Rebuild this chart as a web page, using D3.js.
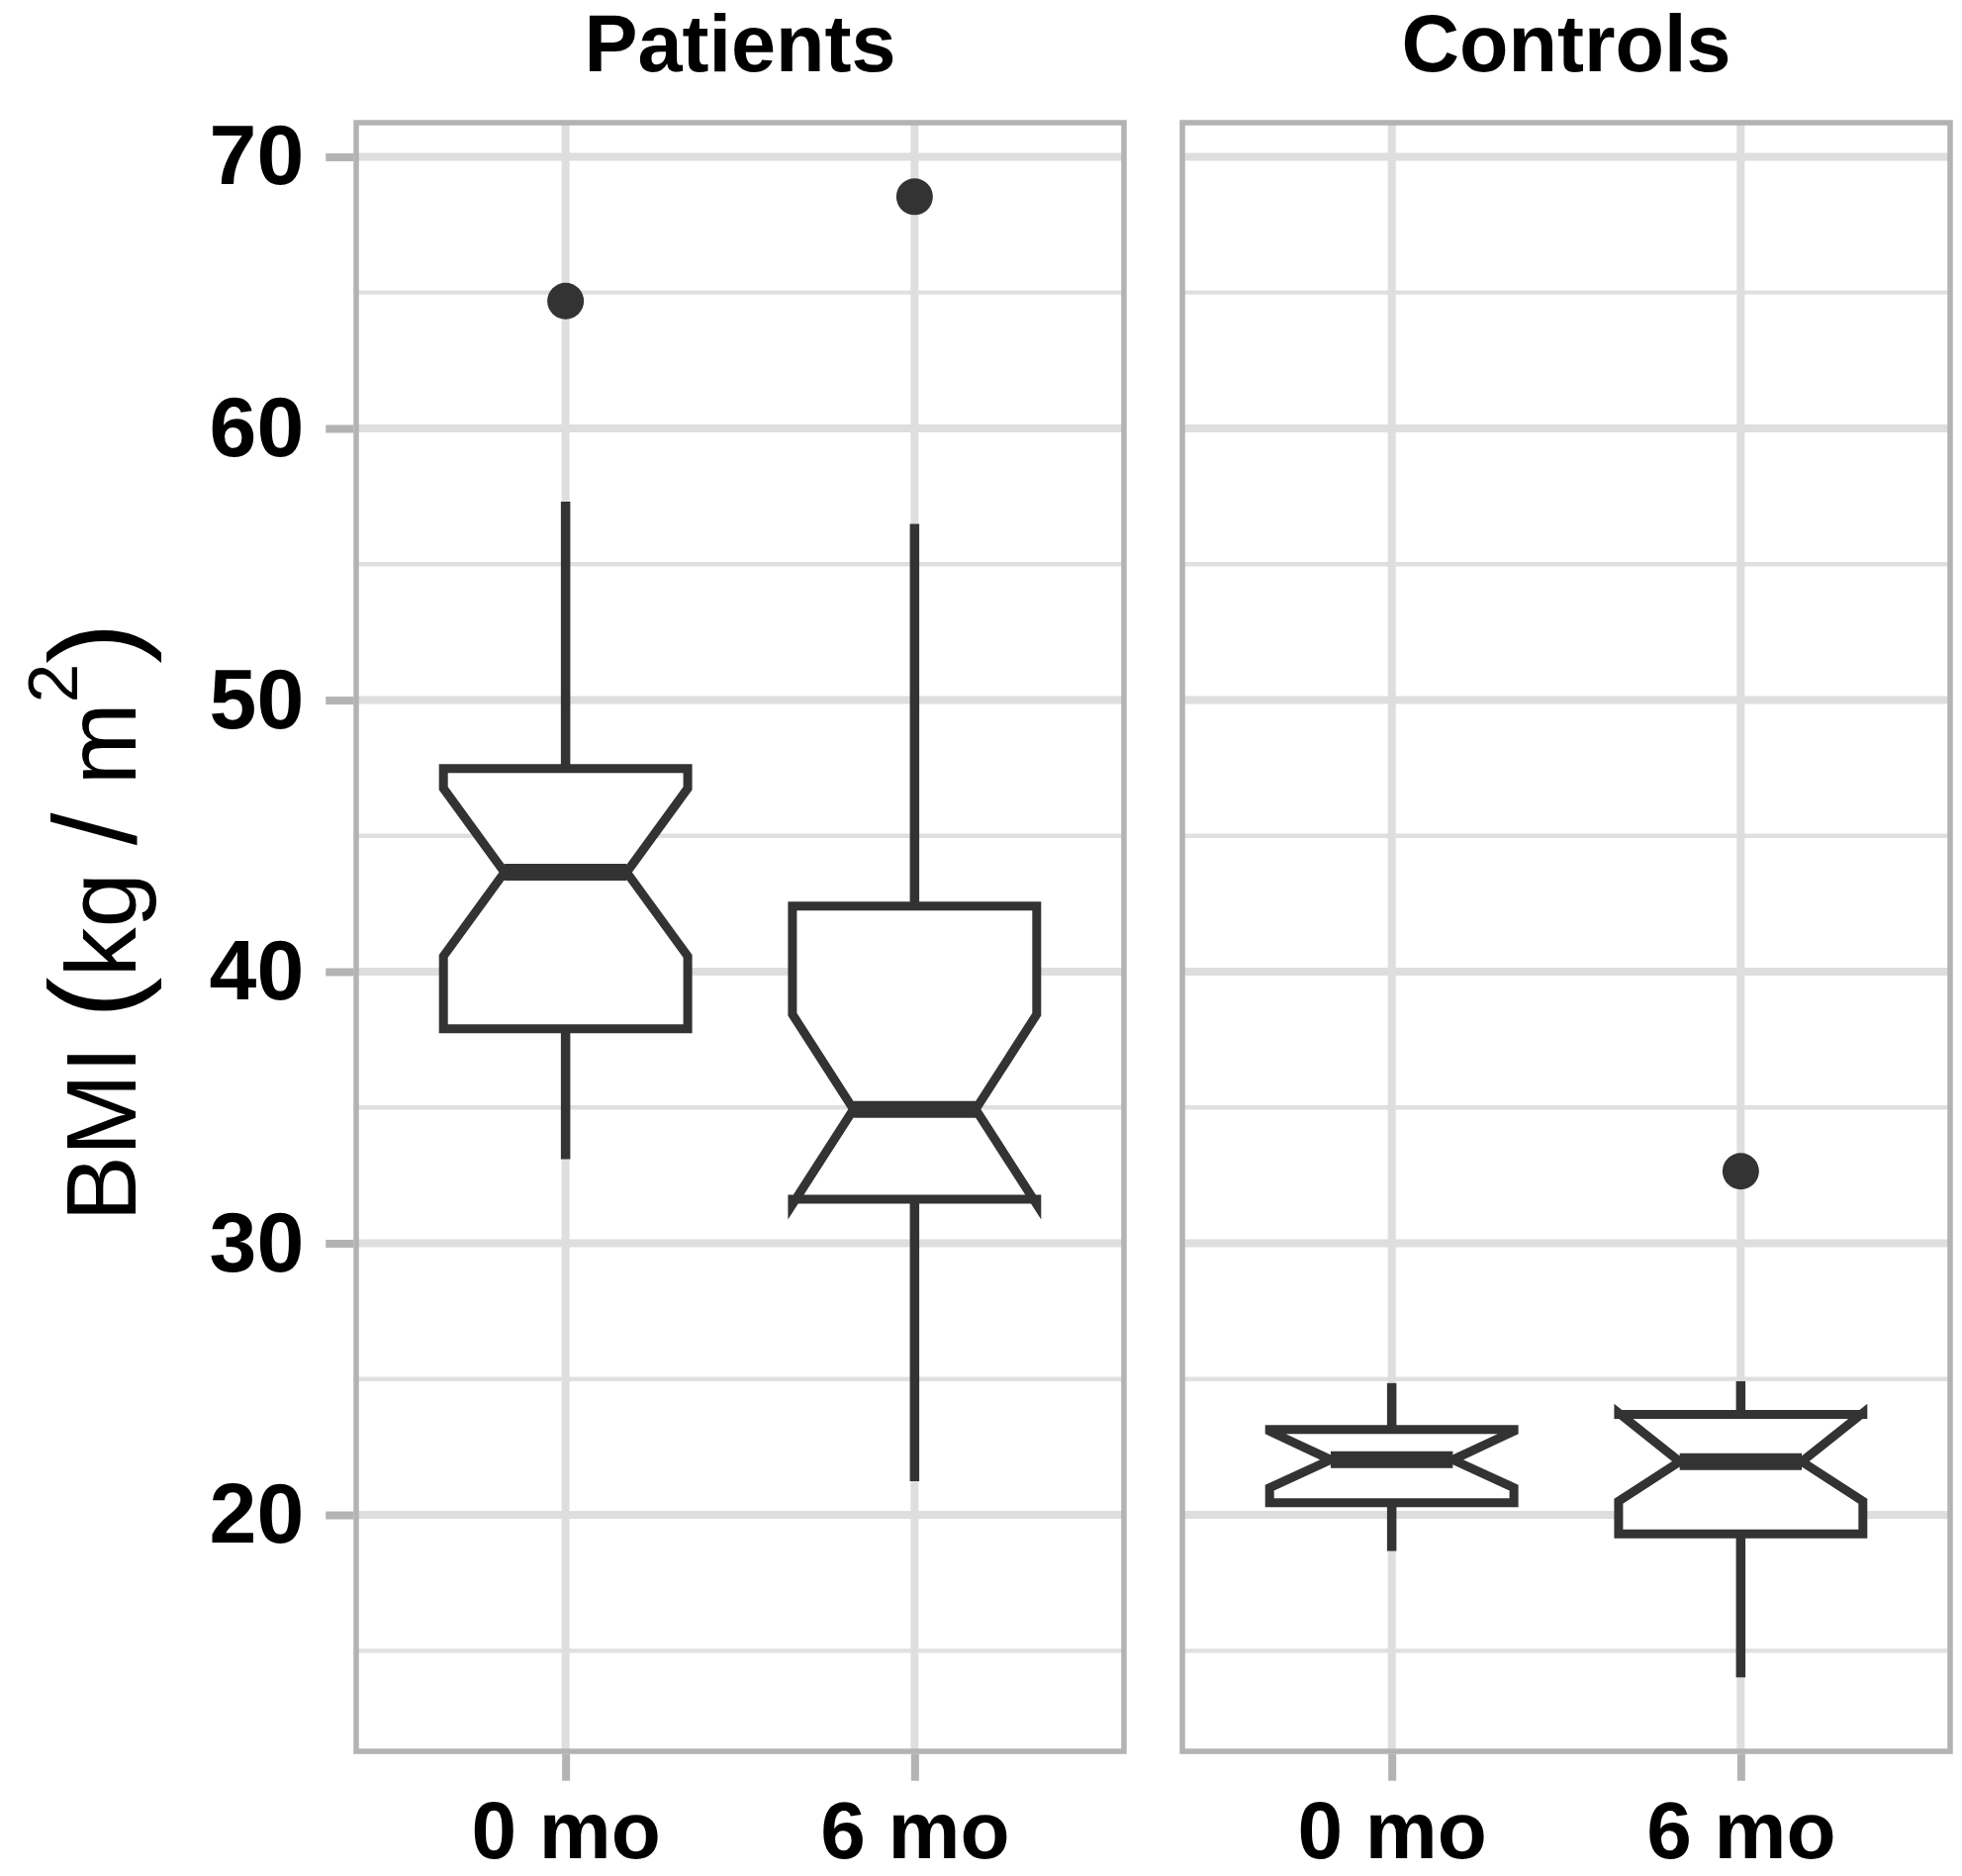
<!DOCTYPE html>
<html>
<head>
<meta charset="utf-8">
<title>BMI boxplots</title>
<script src="https://cdnjs.cloudflare.com/ajax/libs/d3/7.8.5/d3.min.js"></script>
<style>
  body { margin: 0; background: #fff; }
  svg text { font-family: "Liberation Sans", Arial, sans-serif; }
</style>
</head>
<body>
<div id="chart"></div>
<script>
// facets and x categories
var panels = ["Patients", "Controls"];
var times = ["0 mo", "6 mo"];

// one entry per box: P 0mo, P 6mo, C 0mo, C 6mo
var groupPanel  = ["Patients", "Patients", "Controls", "Controls"];
var groupTime   = ["0 mo", "6 mo", "0 mo", "6 mo"];
var whiskerLow  = [33.1, 21.24, 18.67, 14.02];
var hingeLow    = [37.9, 31.62, 20.45, 19.3];
var notchLow    = [40.57, 31.43, 21.0, 20.5];
var medians     = [43.66, 34.93, 22.03, 21.96];
var notchHigh   = [46.75, 38.43, 23.08, 23.75];
var hingeHigh   = [47.48, 42.41, 23.14, 23.7];
var whiskerHigh = [57.3, 56.48, 24.85, 24.92];
var outliers    = [[64.69], [68.53], [], [32.65]];

// axis breaks
var yBreaks = [20, 30, 40, 50, 60, 70];
var yMinorBreaks = [15, 25, 35, 45, 55, 65];

var WIDTH = 1983, HEIGHT = 1896;
var plotLeft = 360, plotRight = 1971, plotTop = 124, plotBottom = 1770;

var svg = d3.select("#chart").append("svg")
  .attr("width", WIDTH)
  .attr("height", HEIGHT);

// y range: data extent + 5% like ggplot
var allVals = whiskerLow.concat(whiskerHigh, d3.merge(outliers));
var lo = d3.min(allVals), hi = d3.max(allVals), pad = (hi - lo) * 0.05;

var y = d3.scaleLinear()
  .domain([lo - pad, hi + pad])
  .range([plotBottom, plotTop]);

var panelScale = d3.scaleBand()
  .domain(panels)
  .range([plotLeft, plotRight])
  .paddingInner(0.0707)
  .paddingOuter(0);

var pw = panelScale.bandwidth();

var x = d3.scalePoint()
  .domain(times)
  .range([0, pw])
  .padding(0.6);

var boxW = x.step() * 0.7;
var inset = boxW * 0.25;

var dark = "#333333";

panels.forEach(function(p) {
  var g = svg.append("g")
    .attr("transform", "translate(" + panelScale(p) + ",0)");

  g.append("rect")
    .attr("x", 0).attr("y", plotTop)
    .attr("width", pw).attr("height", plotBottom - plotTop)
    .attr("fill", "#fff");

  // grid
  g.selectAll(".minor").data(yMinorBreaks).enter().append("line")
    .attr("x1", 0).attr("x2", pw)
    .attr("y1", function(d) { return y(d); })
    .attr("y2", function(d) { return y(d); })
    .attr("stroke", "#e0e0e0").attr("stroke-width", 4.3);

  g.selectAll(".major").data(yBreaks).enter().append("line")
    .attr("x1", 0).attr("x2", pw)
    .attr("y1", function(d) { return y(d); })
    .attr("y2", function(d) { return y(d); })
    .attr("stroke", "#dedede").attr("stroke-width", 8);

  g.selectAll(".vmajor").data(times).enter().append("line")
    .attr("x1", function(d) { return x(d); })
    .attr("x2", function(d) { return x(d); })
    .attr("y1", plotTop).attr("y2", plotBottom)
    .attr("stroke", "#dedede").attr("stroke-width", 8);

  // boxes
  groupPanel.forEach(function(gp, i) {
    if (gp !== p) return;
    var cx = x(groupTime[i]);
    var x0 = cx - boxW / 2, x1 = cx + boxW / 2;

    g.append("line")
      .attr("x1", cx).attr("x2", cx)
      .attr("y1", y(hingeHigh[i])).attr("y2", y(whiskerHigh[i]))
      .attr("stroke", dark).attr("stroke-width", 9.5);
    g.append("line")
      .attr("x1", cx).attr("x2", cx)
      .attr("y1", y(hingeLow[i])).attr("y2", y(whiskerLow[i]))
      .attr("stroke", dark).attr("stroke-width", 9.5);

    var pts = [
      [x0, y(hingeLow[i])], [x0, y(notchLow[i])], [x0 + inset, y(medians[i])],
      [x0, y(notchHigh[i])], [x0, y(hingeHigh[i])],
      [x1, y(hingeHigh[i])], [x1, y(notchHigh[i])], [x1 - inset, y(medians[i])],
      [x1, y(notchLow[i])], [x1, y(hingeLow[i])]
    ];
    g.append("path")
      .attr("d", d3.line()(pts) + "Z")
      .attr("fill", "#fff")
      .attr("stroke", dark)
      .attr("stroke-width", 9)
      .attr("stroke-linejoin", "miter");

    g.append("line")
      .attr("x1", x0 + inset).attr("x2", x1 - inset)
      .attr("y1", y(medians[i])).attr("y2", y(medians[i]))
      .attr("stroke", dark).attr("stroke-width", 17);

    g.selectAll(".out" + i).data(outliers[i]).enter().append("circle")
      .attr("cx", cx)
      .attr("cy", function(d) { return y(d); })
      .attr("r", 18.5)
      .attr("fill", dark);
  });

  // border
  g.append("rect")
    .attr("x", 0).attr("y", plotTop)
    .attr("width", pw).attr("height", plotBottom - plotTop)
    .attr("fill", "none")
    .attr("stroke", "#b3b3b3").attr("stroke-width", 5.5);

  // strip label
  g.append("text")
    .attr("x", pw / 2).attr("y", 72)
    .attr("text-anchor", "middle")
    .attr("font-size", 81).attr("font-weight", "bold")
    .attr("fill", "#000")
    .text(p);

  // x axis
  var xa = g.append("g")
    .attr("transform", "translate(0," + (plotBottom + 2.75) + ")")
    .call(d3.axisBottom(x).tickSize(27).tickPadding(20));
  xa.select(".domain").remove();
  xa.selectAll(".tick line").attr("stroke", "#b3b3b3").attr("stroke-width", 8);
  xa.selectAll(".tick text")
    .attr("font-size", 82).attr("font-weight", "bold").attr("fill", "#000")
    .style("font-family", '"Liberation Sans", Arial, sans-serif');
});

// y axis
var ya = svg.append("g")
  .attr("transform", "translate(" + (plotLeft - 2.75) + ",0)")
  .call(d3.axisLeft(y).tickValues(yBreaks).tickSize(28).tickPadding(22));
ya.select(".domain").remove();
ya.selectAll(".tick line").attr("stroke", "#b3b3b3").attr("stroke-width", 8);
ya.selectAll(".tick text")
  .attr("font-size", 86).attr("font-weight", "bold").attr("fill", "#000")
  .style("font-family", '"Liberation Sans", Arial, sans-serif');

// y title
var yt = svg.append("text")
  .attr("transform", "translate(137,932) rotate(-90)")
  .attr("text-anchor", "middle")
  .attr("fill", "#000")
  .attr("font-size", 100);
yt.append("tspan").text("BMI ");
yt.append("tspan").attr("font-size", 125).text("(");
yt.append("tspan").text("kg ");
yt.append("tspan").attr("font-size", 118).text("/");
yt.append("tspan").text(" m");
yt.append("tspan").attr("font-size", 71).attr("dy", -59).text("2");
yt.append("tspan").attr("font-size", 125).attr("dy", 59).text(")");
</script>
</body>
</html>
